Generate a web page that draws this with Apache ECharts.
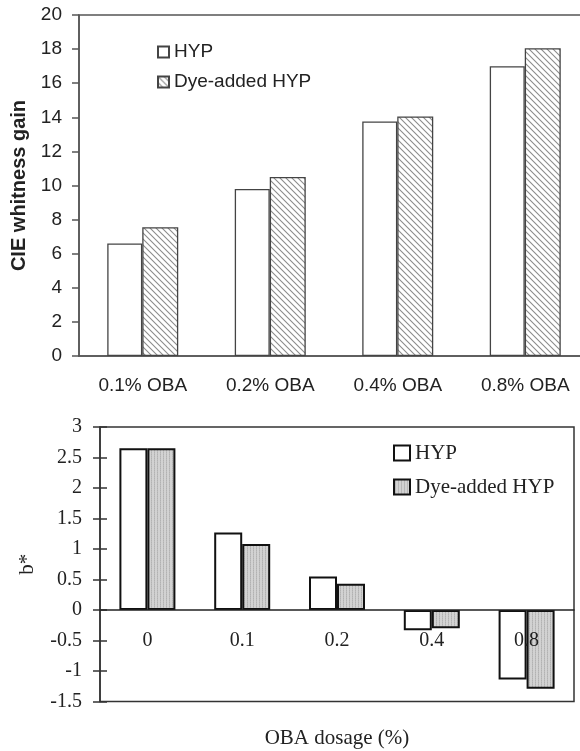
<!DOCTYPE html>
<html>
<head>
<meta charset="utf-8">
<script src="https://cdn.jsdelivr.net/npm/echarts@6/dist/echarts.min.js"></script>
<style>
html,body{margin:0;padding:0;background:#fff;}
#chart{width:580px;height:751px;}
</style>
</head>
<body>
<div id="chart"></div>
<script>
// ---- data ----
const topCategories = ['0.1% OBA', '0.2% OBA', '0.4% OBA', '0.8% OBA'];
const topHYP = [6.6, 9.8, 13.75, 17.0];
const topDye = [7.55, 10.5, 14.05, 18.05];

const bottomCategories = ['0', '0.1', '0.2', '0.4', '0.8'];
const bottomHYP = [2.65, 1.27, 0.55, -0.33, -1.14];
const bottomDye = [2.65, 1.08, 0.43, -0.30, -1.29];

const seriesNames = ['HYP', 'Dye-added HYP'];
const bottomSuffix = ' (b*)';

// ---- fill patterns ----
function hatchPattern() {
  const c = document.createElement('canvas');
  c.width = 6; c.height = 6;
  const g = c.getContext('2d');
  g.fillStyle = '#ffffff'; g.fillRect(0, 0, 6, 6);
  g.strokeStyle = '#8c8c8c'; g.lineWidth = 1.1;
  g.beginPath();
  g.moveTo(0, 0); g.lineTo(6, 6);
  g.moveTo(-3, 3); g.lineTo(3, 9);
  g.moveTo(3, -3); g.lineTo(9, 3);
  g.stroke();
  return c;
}
function stipplePattern() {
  const c = document.createElement('canvas');
  c.width = 3; c.height = 2;
  const g = c.getContext('2d');
  g.fillStyle = '#d2d2d2'; g.fillRect(0, 0, 3, 2);
  g.fillStyle = '#b2b2b2'; g.fillRect(1, 0, 1, 1);
  g.fillStyle = '#bdbdbd'; g.fillRect(1, 1, 1, 1);
  return c;
}

const sans = 'Liberation Sans, Arial, sans-serif';
const serif = 'Liberation Serif, Times New Roman, serif';

// bottom grid geometry (layout only)
const g1Top = 427, g1Bottom = 49.5, g1Height = 751 - g1Top - g1Bottom;
const bMin = -1.5, bMax = 3;
const zeroOffset = -g1Height * (0 - bMin) / (bMax - bMin); // move x axis up to the zero line

const chart = echarts.init(document.getElementById('chart'), null, {renderer: 'canvas'});

chart.setOption({
  animation: false,
  backgroundColor: '#ffffff',
  grid: [
    {left: 79, top: 15, right: -9, bottom: 395, show: true, borderColor: '#555', borderWidth: 1.5,
     backgroundColor: 'transparent', containLabel: false, outerBoundsMode: 'none'},
    {left: 100, top: g1Top, right: 6, bottom: g1Bottom, show: true, borderColor: '#333', borderWidth: 1.5,
     backgroundColor: 'transparent', containLabel: false, outerBoundsMode: 'none'}
  ],
  legend: [
    {
      data: seriesNames,
      orient: 'vertical', left: 157, top: 42, padding: 0,
      itemWidth: 11, itemHeight: 11, itemGap: 10,
      icon: 'rect',
      selectedMode: false,
      textStyle: {fontFamily: sans, fontSize: 19, lineHeight: 20, color: '#222'}
    },
    {
      data: seriesNames.map(n => n + bottomSuffix),
      formatter: n => n.replace(bottomSuffix, ''),
      orient: 'vertical', left: 393, top: 442, padding: 0,
      itemWidth: 16, itemHeight: 15, itemGap: 12,
      icon: 'rect',
      selectedMode: false,
      textStyle: {fontFamily: serif, fontSize: 21, lineHeight: 22, color: '#222'}
    }
  ],
  xAxis: [
    {
      type: 'category', gridIndex: 0, data: topCategories,
      axisLine: {lineStyle: {color: '#555', width: 1.5}},
      axisTick: {length: 6, lineStyle: {color: '#555', width: 1.5}},
      axisLabel: {fontFamily: sans, fontSize: 19, color: '#222', margin: 20},
      splitLine: {show: false}
    },
    {
      type: 'category', gridIndex: 1, data: bottomCategories, position: 'bottom', offset: zeroOffset,
      z: 10,
      axisLine: {onZero: false, lineStyle: {color: '#222', width: 1.5}},
      axisTick: {length: 7, lineStyle: {color: '#222', width: 1.5}},
      axisLabel: {fontFamily: serif, fontSize: 20, color: '#222', margin: 21},
      splitLine: {show: false},
      name: 'OBA dosage (%)', nameLocation: 'middle', nameGap: 118,
      nameTextStyle: {fontFamily: serif, fontSize: 21, color: '#222'}
    },
    {
      type: 'category', gridIndex: 1, data: bottomCategories, position: 'bottom', offset: zeroOffset,
      z: 10,
      axisLine: {show: false, onZero: false},
      axisTick: {inside: true, length: 7, lineStyle: {color: '#222', width: 1.5}},
      axisLabel: {show: false},
      splitLine: {show: false}
    }
  ],
  yAxis: [
    {
      type: 'value', gridIndex: 0, min: 0, max: 20, interval: 2,
      axisLine: {show: true, lineStyle: {color: '#555', width: 1.5}},
      axisTick: {show: true, length: 7, lineStyle: {color: '#555', width: 1.5}},
      axisLabel: {fontFamily: sans, fontSize: 19, color: '#222', margin: 17},
      splitLine: {show: false},
      name: 'CIE whitness gain', nameLocation: 'middle', nameGap: 50, nameRotate: 90,
      nameTextStyle: {fontFamily: sans, fontSize: 20, fontWeight: 'bold', color: '#222'}
    },
    {
      type: 'value', gridIndex: 1, min: bMin, max: bMax, interval: 0.5,
      axisLine: {show: true, onZero: false, lineStyle: {color: '#333', width: 1.5}},
      axisTick: {show: true, length: 7, lineStyle: {color: '#333', width: 1.5}},
      axisLabel: {fontFamily: serif, fontSize: 20, color: '#222', margin: 18},
      splitLine: {show: false},
      name: 'b*', nameLocation: 'middle', nameGap: 62, nameRotate: 90,
      nameTextStyle: {fontFamily: serif, fontSize: 21, color: '#222'}
    },
    {
      type: 'value', gridIndex: 1, min: bMin, max: bMax, interval: 0.5, position: 'left',
      axisLine: {show: false, onZero: false},
      axisTick: {show: true, inside: true, length: 7, lineStyle: {color: '#333', width: 1.5}},
      axisLabel: {show: false},
      splitLine: {show: false}
    }
  ],
  series: [
    {
      name: seriesNames[0], type: 'bar', xAxisIndex: 0, yAxisIndex: 0,
      data: topHYP, barWidth: 35, barGap: '0%',
      itemStyle: {color: '#ffffff', borderColor: '#444', borderWidth: 1.3}
    },
    {
      name: seriesNames[1], type: 'bar', xAxisIndex: 0, yAxisIndex: 0,
      data: topDye, barWidth: 36, barGap: '0%',
      itemStyle: {color: {image: hatchPattern(), repeat: 'repeat'}, borderColor: '#444', borderWidth: 1.3}
    },
    {
      name: seriesNames[0] + bottomSuffix, type: 'bar', xAxisIndex: 1, yAxisIndex: 1,
      data: bottomHYP, barWidth: 28, barGap: '0%',
      itemStyle: {color: '#ffffff', borderColor: '#111', borderWidth: 2}
    },
    {
      name: seriesNames[1] + bottomSuffix, type: 'bar', xAxisIndex: 1, yAxisIndex: 1,
      data: bottomDye, barWidth: 28, barGap: '0%',
      itemStyle: {color: {image: stipplePattern(), repeat: 'repeat'}, borderColor: '#111', borderWidth: 2}
    }
  ]
});
</script>
</body>
</html>
